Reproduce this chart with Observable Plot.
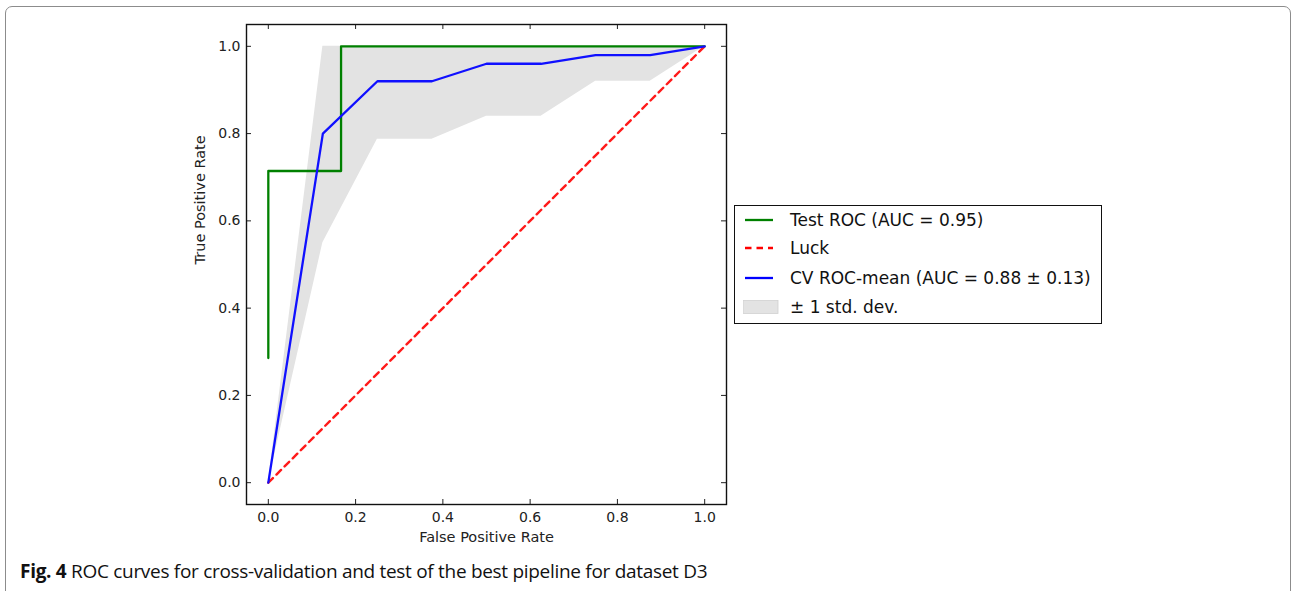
<!DOCTYPE html>
<html><head><meta charset="utf-8">
<script src="https://cdn.jsdelivr.net/npm/d3@7"></script>
<script src="https://cdn.jsdelivr.net/npm/@observablehq/plot@0.6"></script>
<style>
html,body{margin:0;padding:0;background:#fff;}
body{width:1292px;height:591px;overflow:hidden;position:relative;}
#frame{position:absolute;left:5px;top:6px;width:1286px;height:650px;border:1px solid #8c8c8c;border-radius:7px;box-sizing:border-box;}
#chart{position:absolute;left:0;top:0;}
#legend{position:absolute;left:734px;top:205px;width:368px;height:119px;border:1.3px solid #111;box-sizing:border-box;background:#fff;font-family:"DejaVu Sans";font-size:17px;color:#111;}
.row{position:absolute;left:0;height:20px;line-height:20px;}
.row svg{position:absolute;left:8px;top:0;}
.row span{position:absolute;left:55px;top:0;white-space:nowrap;}
#caption{position:absolute;left:20px;top:558px;font-family:"Open Sans";font-size:19px;color:#111;white-space:nowrap;letter-spacing:-0.3px;}
#caption b{font-weight:700;}
</style>
</head><body>
<div id="frame"></div>
<div id="chart"></div>
<div id="legend"></div>
<div id="caption"><b>Fig. 4</b> ROC curves for cross-validation and test of the best pipeline for dataset D3</div>
<script>
// Test ROC (step curve)
const testFpr = [0, 0, 0.1667, 0.1667, 1];
const testTpr = [0.2857, 0.7143, 0.7143, 1, 1];
// Luck diagonal
const luckFpr = [0, 1];
const luckTpr = [0, 1];
// CV mean ROC and ±1 std band
const cvFpr = [0, 0.125, 0.25, 0.375, 0.5, 0.625, 0.75, 0.875, 1];
const cvMeanTpr = [0, 0.80, 0.92, 0.92, 0.96, 0.96, 0.98, 0.98, 1];
const cvUpperTpr = [0, 1, 1, 1, 1, 1, 1, 1, 1];
const cvLowerTpr = [0, 0.55, 0.787, 0.787, 0.84, 0.84, 0.92, 0.92, 1];
// ticks
const xTicks = [0, 0.2, 0.4, 0.6, 0.8, 1.0];
const yTicks = [0, 0.2, 0.4, 0.6, 0.8, 1.0];
// legend
const legendLabels = ["Test ROC (AUC = 0.95)", "Luck", "CV ROC-mean (AUC = 0.88 \u00b1 0.13)", "\u00b1 1 std. dev."];
const legendColors = ["#008000", "#ff0000", "#0000ff", "#e3e3e3"];

const testData = testFpr.map((x, i) => ({x, y: testTpr[i]}));
const luckData = luckFpr.map((x, i) => ({x, y: luckTpr[i]}));
const cvData = cvFpr.map((x, i) => ({x, y: cvMeanTpr[i], lo: cvLowerTpr[i], hi: cvUpperTpr[i]}));

const W = 1292, H = 591;
const fmt = d3.format(".1f");
const chart = Plot.plot({
  width: W, height: H,
  marginLeft: 246, marginRight: W - 726, marginTop: 24, marginBottom: H - 504,
  x: {domain: [-0.05, 1.05]},
  y: {domain: [-0.05, 1.05]},
  style: {fontFamily: "DejaVu Sans", fontSize: "14px", color: "#222", background: "transparent"},
  marks: [
    Plot.areaY(cvData, {x: "x", y1: "lo", y2: "hi", fill: "#e3e3e3"}),
    Plot.line(testData, {x: "x", y: "y", stroke: "#008000", strokeWidth: 2.3}),
    Plot.line(luckData, {x: "x", y: "y", stroke: "#ff1a1a", strokeWidth: 2.4, strokeDasharray: "6.5,5"}),
    Plot.line(cvData, {x: "x", y: "y", stroke: "#1010ff", strokeWidth: 2.3}),
    // inward ticks on all four sides
    Plot.ruleX(xTicks, {x: d => d, insetTop: 475, stroke: "#222"}),
    Plot.ruleX(xTicks, {x: d => d, insetBottom: 475, stroke: "#222"}),
    Plot.ruleY(yTicks, {y: d => d, insetRight: 475, stroke: "#222"}),
    Plot.ruleY(yTicks, {y: d => d, insetLeft: 475, stroke: "#222"}),
    Plot.axisX(xTicks, {tickSize: 0, tickPadding: 8, tickFormat: fmt, label: null, fontSize: 14}),
    Plot.axisY(yTicks, {tickSize: 0, tickPadding: 6, tickFormat: fmt, label: null, fontSize: 14}),
    Plot.text(["False Positive Rate"], {frameAnchor: "bottom", dy: 33, lineAnchor: "middle", fontSize: 14.5, fill: "#222"}),
    Plot.text(["True Positive Rate"], {frameAnchor: "left", dx: -46, rotate: -90, lineAnchor: "middle", fontSize: 14.5, fill: "#222"}),
    Plot.frame({stroke: "#111", strokeWidth: 1.4})
  ]
});
document.getElementById("chart").appendChild(chart);

const legend = document.getElementById("legend");
const rowTops = [4, 32, 62, 91];
legendLabels.forEach((lab, i) => {
  const row = document.createElement("div");
  row.className = "row";
  row.style.top = rowTops[i] + "px";
  let sw;
  if (i === 3) {
    sw = `<svg width="40" height="20"><rect x="0" y="3.5" width="35" height="13" fill="${legendColors[i]}" stroke="#d0d0d0" stroke-width="0.8"/></svg>`;
  } else {
    sw = `<svg width="40" height="20"><line x1="2" x2="30" y1="10" y2="10" stroke="${legendColors[i]}" stroke-width="2.3" ${i === 1 ? 'stroke-dasharray="6.5,5"' : ''}/></svg>`;
  }
  row.innerHTML = sw + `<span>${lab}</span>`;
  legend.appendChild(row);
});
</script>
</body></html>
